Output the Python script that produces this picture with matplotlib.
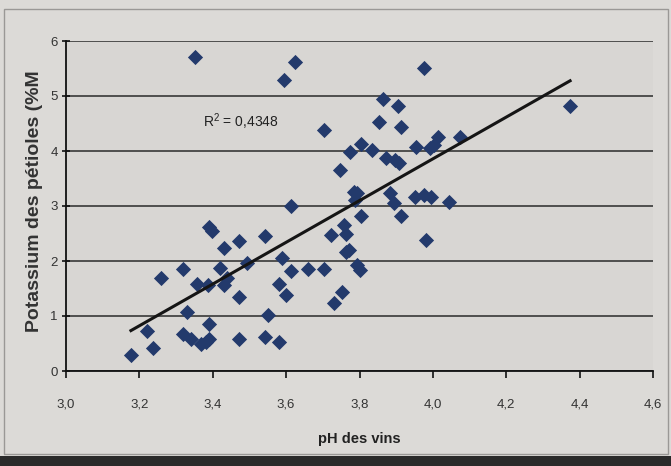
import numpy as np
import matplotlib
matplotlib.use("Agg")
import matplotlib.pyplot as plt
from matplotlib.ticker import FuncFormatter
from matplotlib.patches import Rectangle

plt.rcParams['font.family'] = ['Liberation Sans', 'DejaVu Sans']

ph = [3.351, 3.623, 3.593, 3.702, 3.975, 3.864, 3.904, 3.854, 3.914, 4.374,
      3.774, 3.803, 3.833, 3.955, 4.014, 4.002, 3.993, 4.075, 3.873, 3.898,
      3.907, 3.748, 3.785, 3.794, 3.789, 3.884, 3.893, 3.952, 3.975, 3.995,
      4.045, 3.803, 3.914, 3.757, 3.762, 3.771, 3.762, 3.982, 3.794, 3.801,
      3.753, 3.612, 3.390, 3.399, 3.472, 3.542, 3.431, 3.721, 3.590, 3.494,
      3.420, 3.440, 3.431, 3.386, 3.358, 3.612, 3.659, 3.703, 3.318, 3.259,
      3.580, 3.601, 3.472, 3.730, 3.329, 3.390, 3.551, 3.220, 3.318, 3.340,
      3.367, 3.381, 3.390, 3.472, 3.542, 3.580, 3.238, 3.177]
potassium = [5.71, 5.62, 5.29, 4.38, 5.51, 4.94, 4.82, 4.52, 4.43, 4.82,
             3.99, 4.13, 4.02, 4.07, 4.26, 4.11, 4.05, 4.26, 3.87, 3.84,
             3.78, 3.65, 3.26, 3.23, 3.11, 3.23, 3.05, 3.17, 3.20, 3.17,
             3.08, 2.82, 2.81, 2.65, 2.50, 2.20, 2.17, 2.38, 1.93, 1.84,
             1.44, 3.00, 2.61, 2.55, 2.37, 2.46, 2.23, 2.48, 2.05, 1.96,
             1.87, 1.69, 1.56, 1.56, 1.59, 1.81, 1.85, 1.85, 1.85, 1.69,
             1.58, 1.38, 1.34, 1.23, 1.07, 0.85, 1.02, 0.72, 0.67, 0.58,
             0.50, 0.53, 0.58, 0.58, 0.62, 0.52, 0.42, 0.29]
r2_label = "0,4348"
x_ticks = [3.0, 3.2, 3.4, 3.6, 3.8, 4.0, 4.2, 4.4, 4.6]
y_ticks = [0, 1, 2, 3, 4, 5, 6]

fig = plt.figure(figsize=(6.71, 4.66), dpi=100)
fig.patch.set_facecolor('#dcdad7')
# frame and dark bottom strip like the scan
fig.patches.append(Rectangle((0.006, 0.025), 0.99, 0.955, transform=fig.transFigure,
                             fill=False, edgecolor='#9a9896', linewidth=1.0))
fig.patches.append(Rectangle((0, 0), 1, 0.022, transform=fig.transFigure,
                             facecolor='#2a2a2a', edgecolor='none'))

ax = fig.add_axes([66/671, 1-371/466, (653-66)/671, (371-41)/466])
ax.set_facecolor('#d8d6d3')

ax.scatter(ph, potassium, marker='D', s=60, color='#233a6c', zorder=3, linewidths=0)

coef = np.polyfit(ph, potassium, 1)
xs = np.array([min(ph), max(ph)])
ax.plot(xs, np.polyval(coef, xs), color='#151515', linewidth=2.2, zorder=4)

ax.set_xlim(3.0, 4.6)
ax.set_ylim(0, 6)
ax.set_xticks(x_ticks)
ax.set_yticks(y_ticks)
ax.xaxis.set_major_formatter(FuncFormatter(lambda v, p: f"{v:.1f}".replace('.', ',')))
ax.yaxis.set_major_formatter(FuncFormatter(lambda v, p: f"{v:.0f}"))
ax.grid(axis='y', color='#2a2a2a', linewidth=1.1)
ax.set_axisbelow(True)
for s in ['top', 'right']:
    ax.spines[s].set_visible(False)
ax.spines['left'].set_color('#111111')
ax.spines['bottom'].set_color('#111111')
ax.spines['left'].set_linewidth(1.3)
ax.spines['bottom'].set_linewidth(1.3)
ax.tick_params(axis='x', direction='out', length=5, width=1.2, labelsize=9.5,
               colors='#111111', labelcolor='#333333', pad=15)
ax.tick_params(axis='y', direction='inout', length=6, width=1.2, labelsize=9.5,
               colors='#111111', labelcolor='#333333', pad=3)

ax.set_xlabel("pH des vins", fontsize=10.5, fontweight='bold', color='#222222', labelpad=15)
fig.text(35/671, 1-201/466, "Potassium des pétioles (%M", rotation=90, fontsize=14,
         fontweight='bold', color='#333333', ha='center', va='center')

ax.text(3.374, 4.53, r"$\mathregular{R^{2}}$ = " + r2_label, fontsize=10,
        color='#222222', va='center', ha='left')

fig.savefig("out.png", dpi=100, facecolor=fig.get_facecolor())
